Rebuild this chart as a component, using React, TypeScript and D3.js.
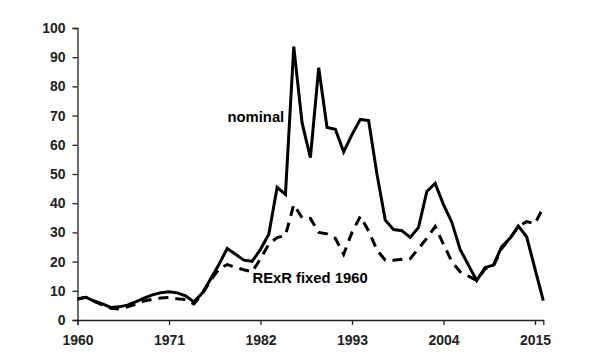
import React, { useEffect, useRef } from 'react';
import * as d3 from 'd3';

// annual series, 1960-2016
const years: number[] = d3.range(1960, 2017);

const nominal: number[] = [
  7.2, 7.8, 6.5, 5.5, 4.3, 4.5, 5.1, 6.2, 7.5, 8.6, 9.3, 9.7, 9.3, 8.3, 6.2,
  9.2, 14, 19, 24.5, 22.5, 20.5, 20.1, 24.2, 29.4, 45.4, 43, 93.6, 67.5, 55.6,
  86.4, 65.9, 65.3, 57.6, 63.5, 68.7, 68.3, 50, 34.2, 31, 30.6, 28.3, 31.7, 44,
  46.8, 39.5, 33.5, 24.2, 18.8, 13.5, 18, 18.8, 25.1, 28, 32.2, 28.5, 17.5, 6.6,
];

const rexrFixed1960: number[] = [
  7.2, 7.8, 6.4, 5.2, 4, 3.8, 4.5, 5.4, 6.5, 7.1, 7.5, 7.7, 7.3, 7, 5.5, 9,
  13.5, 17.5, 19, 18, 17.2, 16.5, 21, 26, 28.2, 29, 39.5, 35, 34.8, 30, 29.5,
  28, 22.5, 30, 35.5, 30.5, 24, 20.5, 20.5, 20.8, 21, 24.5, 28, 32, 26, 20,
  16.5, 15, 13.5, 17.5, 18.5, 24.5, 28, 32, 33.7, 33, 38.6,
];

const xTicks: number[] = [1960, 1971, 1982, 1993, 2004, 2015];
const yTicks: number[] = [0, 10, 20, 30, 40, 50, 60, 70, 80, 90, 100];

const W = 600;
const H = 360;
const FONT = '"Liberation Sans", Arial, sans-serif';

export default function App() {
  const svgRef = useRef<SVGSVGElement>(null);

  useEffect(() => {
    const svg = d3.select(svgRef.current);
    svg.selectAll('*').remove();

    const x = d3.scaleLinear().domain([1960, 2016]).range([77.5, 543.3]);
    const y = d3.scaleLinear().domain([0, 100]).range([320, 28]);

    const xAxis = svg.append('g')
      .attr('transform', `translate(0,${y(0)})`)
      .call(d3.axisBottom(x).tickValues(xTicks).tickFormat(d3.format('d')).tickSizeOuter(0).tickSize(5).tickPadding(10));

    const yAxis = svg.append('g')
      .attr('transform', `translate(${x(1960)},0)`)
      .call(d3.axisLeft(y).tickValues(yTicks).tickSizeOuter(0).tickSize(5).tickPadding(7));

    [xAxis, yAxis].forEach(a => {
      a.select('.domain').attr('stroke', '#222').attr('stroke-width', 1.3);
      a.selectAll('.tick line').attr('stroke', '#222').attr('stroke-width', 1.3);
      a.selectAll('.tick text')
        .attr('fill', '#222')
        .style('font-family', FONT)
        .style('font-weight', 'bold')
        .style('font-size', '14px');
    });

    const line = d3.line<number>()
      .x((_, i) => x(years[i]))
      .y(d => y(d));

    svg.append('path')
      .datum(rexrFixed1960)
      .attr('fill', 'none')
      .attr('stroke', '#000')
      .attr('stroke-width', 3)
      .attr('stroke-dasharray', '10,7')
      .attr('d', line);

    svg.append('path')
      .datum(nominal)
      .attr('fill', 'none')
      .attr('stroke', '#000')
      .attr('stroke-width', 3)
      .attr('stroke-linejoin', 'miter')
      .attr('d', line);

    svg.append('text')
      .attr('x', 227.5)
      .attr('y', 122)
      .style('font-family', FONT)
      .style('font-weight', 'bold')
      .style('font-size', '14.8px')
      .attr('fill', '#000')
      .text('nominal');

    svg.append('text')
      .attr('x', 252.5)
      .attr('y', 282.5)
      .style('font-family', FONT)
      .style('font-weight', 'bold')
      .style('font-size', '14.8px')
      .attr('fill', '#000')
      .text('RExR fixed 1960');
  }, []);

  return (
    <svg
      ref={svgRef}
      width={W}
      height={H}
      style={{ position: 'absolute', left: 0, top: 0, background: '#fff' }}
    />
  );
}
